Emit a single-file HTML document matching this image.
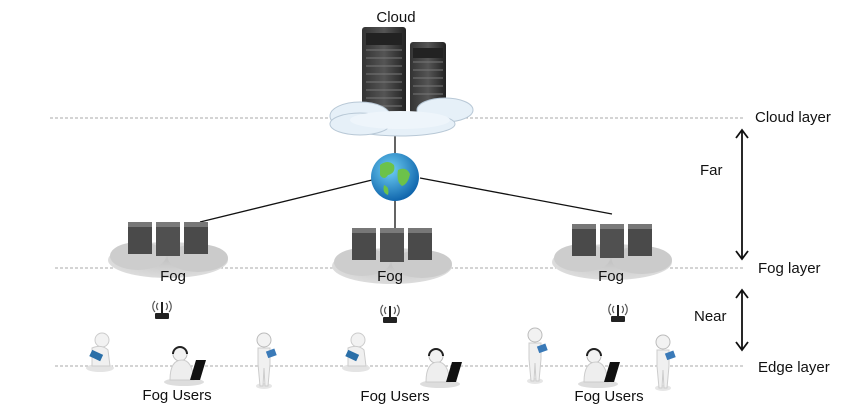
<!DOCTYPE html>
<html><head><meta charset="utf-8"><style>
html,body{margin:0;padding:0;background:#fff;width:850px;height:419px;overflow:hidden}
text{font-family:"Liberation Sans",sans-serif;fill:#111}
</style></head><body>
<svg width="850" height="419" viewBox="0 0 850 419" xmlns="http://www.w3.org/2000/svg">
<defs>
<radialGradient id="globe" cx="0.4" cy="0.35" r="0.7"><stop offset="0" stop-color="#6fd0f5"/><stop offset="1" stop-color="#0a5fa8"/></radialGradient>
<linearGradient id="srv" x1="0" x2="1"><stop offset="0" stop-color="#333"/><stop offset="0.5" stop-color="#555"/><stop offset="1" stop-color="#222"/></linearGradient>
<radialGradient id="fogc" cx="0.5" cy="0.5" r="0.5"><stop offset="0" stop-color="#c4c4c4"/><stop offset="1" stop-color="#dcdcdc"/></radialGradient>
<g id="fog">
<ellipse cx="0" cy="12" rx="60" ry="18" fill="url(#fogc)"/>
<ellipse cx="-30" cy="8" rx="28" ry="14" fill="#cdcdcd"/>
<ellipse cx="30" cy="10" rx="30" ry="14" fill="#cbcbcb"/>
<rect x="-40" y="-26" width="24" height="32" fill="#4a4a4a"/><rect x="-40" y="-26" width="24" height="5" fill="#777"/>
<rect x="-12" y="-26" width="24" height="34" fill="#505050"/><rect x="-12" y="-26" width="24" height="5" fill="#7a7a7a"/>
<rect x="16" y="-26" width="24" height="32" fill="#4a4a4a"/><rect x="16" y="-26" width="24" height="5" fill="#777"/>
</g>
<g id="router">
<rect x="-7" y="3" width="14" height="6" rx="1" fill="#222"/>
<line x1="0" y1="3" x2="0" y2="-8" stroke="#222" stroke-width="2"/>
<path d="M-4,-7 a5,5 0 0 0 0,7 M4,-7 a5,5 0 0 1 0,7 M-7,-9 a8,8 0 0 0 0,11 M7,-9 a8,8 0 0 1 0,11" stroke="#555" fill="none" stroke-width="1.2"/>
</g>
<g id="sit">
<ellipse cx="0" cy="16" rx="14" ry="4" fill="#e4e4e4"/>
<circle cx="2" cy="-12" r="7" fill="#f2f2f2" stroke="#ccc"/>
<path d="M-8,-4 q10,-4 16,2 l2,16 l-18,0 z" fill="#f0f0f0" stroke="#ccc"/>
<rect x="-10" y="0" width="12" height="7" transform="rotate(25 -4 4)" fill="#2a6fa8"/>
</g>
<g id="lap">
<ellipse cx="0" cy="18" rx="20" ry="4" fill="#ddd"/>
<circle cx="-4" cy="-10" r="7" fill="#f2f2f2" stroke="#bbb"/>
<path d="M-11,-10 a7,7 0 0 1 14,0" stroke="#222" stroke-width="2" fill="none"/>
<path d="M-14,16 q0,-20 12,-20 q10,0 12,20 z" fill="#eee" stroke="#ccc"/>
<path d="M6,16 l6,-20 l10,0 l-6,20 z" fill="#111"/>
</g>
<g id="stand">
<ellipse cx="0" cy="26" rx="8" ry="3" fill="#e6e6e6"/>
<circle cx="0" cy="-20" r="7" fill="#f2f2f2" stroke="#bbb"/>
<path d="M-6,-12 l12,0 l0,16 l-2,22 l-3,0 l-1,-18 l-1,18 l-3,0 l-2,-22 z" fill="#f0f0f0" stroke="#ccc"/>
<rect x="3" y="-10" width="9" height="7" fill="#3a7ab8" transform="rotate(-20 7 -6)"/>
</g>
</defs>

<g stroke="#aaa" stroke-width="1" stroke-dasharray="3,2">
<line x1="50" y1="118" x2="745" y2="118"/>
<line x1="55" y1="268" x2="745" y2="268"/>
<line x1="55" y1="366" x2="745" y2="366"/>
</g>

<g stroke="#111" stroke-width="1.3">
<line x1="395" y1="125" x2="395" y2="160"/>
<line x1="372" y1="180" x2="200" y2="222"/>
<line x1="395" y1="200" x2="395" y2="228"/>
<line x1="420" y1="178" x2="612" y2="214"/>
</g>

<rect x="362" y="27" width="44" height="92" rx="3" fill="url(#srv)"/>
<g stroke="#777" stroke-width="1">
<line x1="366" y1="50" x2="402" y2="50"/><line x1="366" y1="58" x2="402" y2="58"/><line x1="366" y1="66" x2="402" y2="66"/><line x1="366" y1="74" x2="402" y2="74"/><line x1="366" y1="82" x2="402" y2="82"/><line x1="366" y1="90" x2="402" y2="90"/><line x1="366" y1="98" x2="402" y2="98"/><line x1="366" y1="106" x2="402" y2="106"/>
</g>
<rect x="366" y="33" width="36" height="12" fill="#222"/>
<rect x="410" y="42" width="36" height="76" rx="3" fill="url(#srv)"/>
<g stroke="#777" stroke-width="1">
<line x1="413" y1="62" x2="443" y2="62"/><line x1="413" y1="70" x2="443" y2="70"/><line x1="413" y1="78" x2="443" y2="78"/><line x1="413" y1="86" x2="443" y2="86"/><line x1="413" y1="94" x2="443" y2="94"/>
</g>
<rect x="413" y="48" width="30" height="10" fill="#222"/>
<g fill="#e6f0f8" stroke="#b8c8d6">
<ellipse cx="360" cy="116" rx="30" ry="14"/>
<ellipse cx="445" cy="110" rx="28" ry="12"/>
<ellipse cx="400" cy="124" rx="55" ry="12"/>
<ellipse cx="360" cy="124" rx="30" ry="11"/>
</g>
<ellipse cx="400" cy="120" rx="50" ry="9" fill="#eef5fb"/>

<circle cx="395" cy="177" r="24" fill="url(#globe)"/>
<path d="M380,165 q8,-6 14,0 q2,8 -6,10 q-4,6 -8,0 z M398,170 q8,-4 12,4 q-2,10 -8,12 q-6,-4 -4,-16 z M384,185 q6,2 4,10 q-6,-2 -4,-10z" fill="#6cc24a"/>

<use href="#fog" x="168" y="248"/>
<use href="#fog" x="392" y="254"/>
<use href="#fog" x="612" y="250"/>

<use href="#router" x="162" y="310"/>
<use href="#router" x="390" y="314"/>
<use href="#router" x="618" y="313"/>

<use href="#sit" x="100" y="352"/>
<use href="#lap" x="184" y="364"/>
<use href="#stand" x="264" y="360"/>
<use href="#sit" x="356" y="352"/>
<use href="#lap" x="440" y="366"/>
<use href="#stand" x="535" y="355"/>
<use href="#lap" x="598" y="366"/>
<use href="#stand" x="663" y="362"/>

<g font-size="15">
<text x="396" y="22" text-anchor="middle">Cloud</text>
<text x="173" y="281" text-anchor="middle">Fog</text>
<text x="390" y="281" text-anchor="middle">Fog</text>
<text x="611" y="281" text-anchor="middle">Fog</text>
<text x="177" y="400" text-anchor="middle">Fog Users</text>
<text x="395" y="401" text-anchor="middle">Fog Users</text>
<text x="609" y="401" text-anchor="middle">Fog Users</text>
<text x="755" y="122">Cloud layer</text>
<text x="758" y="273">Fog layer</text>
<text x="758" y="372">Edge layer</text>
<text x="700" y="175">Far</text>
<text x="694" y="321">Near</text>
</g>

<g stroke="#111" stroke-width="1.8" fill="none">
<line x1="742" y1="130" x2="742" y2="259"/>
<polyline points="736,138 742,130 748,138"/>
<polyline points="736,251 742,259 748,251"/>
<line x1="742" y1="290" x2="742" y2="350"/>
<polyline points="736,298 742,290 748,298"/>
<polyline points="736,342 742,350 748,342"/>
</g>
</svg>
</body></html>
